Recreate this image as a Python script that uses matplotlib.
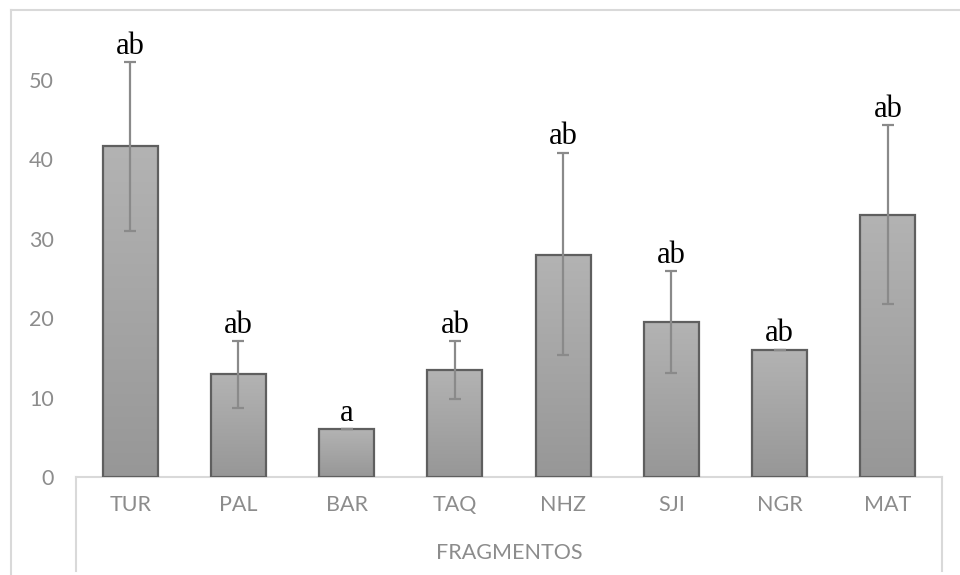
import matplotlib
matplotlib.use("Agg")
import matplotlib.pyplot as plt
import numpy as np
from matplotlib.lines import Line2D

# Data
fragments = ["TUR", "PAL", "BAR", "TAQ", "NHZ", "SJI", "NGR", "MAT"]
means = [41.6, 12.9, 6.0, 13.5, 27.9, 19.5, 16.0, 33.0]
err_low = [10.7, 4.2, 0.0, 3.7, 12.6, 6.4, 0.0, 11.2]
err_high = [10.6, 4.2, 0.0, 3.6, 12.9, 6.4, 0.0, 11.3]
letters = ["ab", "ab", "a", "ab", "ab", "ab", "ab", "ab"]
yticks = [0, 10, 20, 30, 40, 50]
xlabel = "FRAGMENTOS"

W, H = 960, 575
fig = plt.figure(figsize=(W / 100, H / 100), dpi=100)
ax = fig.add_axes([76 / W, (H - 477) / H, (942 - 76) / W, (477 - 16) / H])

x = np.arange(len(fragments))
bars = ax.bar(x, means, width=0.51, color="none", edgecolor="#5f5f5f",
              linewidth=1.6, zorder=3)

# vertical gradient fill clipped to each bar: lighter at the top
grad = np.linspace(0, 1, 256).reshape(-1, 1)
cmap = matplotlib.colors.LinearSegmentedColormap.from_list("g", ["#b3b3b3", "#979797"])
for b in bars:
    x0, y0 = b.get_x(), b.get_y()
    w, h = b.get_width(), b.get_height()
    im = ax.imshow(grad, cmap=cmap, aspect="auto", origin="upper",
                   extent=(x0, x0 + w, y0, y0 + h), zorder=2, interpolation="bicubic")
    im.set_clip_path(b)

ax.errorbar(x, means, yerr=[err_low, err_high], fmt="none", ecolor="#8a8a8a",
            elinewidth=1.6, capsize=4.5, capthick=1.6, zorder=4)

for xi, m, eh, lab in zip(x, means, err_high, letters):
    ax.annotate(lab, (xi, m + eh), xytext=(0, 6), textcoords="offset points",
                ha="center", va="baseline", fontsize=22,
                family="Liberation Serif", color="black", zorder=5)

ax.set_xlim(-0.5, len(fragments) - 0.5)
ax.set_ylim(0, 58)
ax.set_yticks(yticks)
ax.set_yticklabels([str(t) for t in yticks], family="Lato", fontsize=15.5, color="#8c8c8c")
ax.tick_params(axis="y", length=0, pad=16)
ax.set_xticks(x)
ax.set_xticklabels(fragments, family="Lato", fontsize=15.5, color="#8c8c8c")
ax.tick_params(axis="x", length=0, pad=13)

for s in ["left", "right", "top"]:
    ax.spines[s].set_visible(False)
ax.spines["bottom"].set_color("#d9d9d9")
ax.spines["bottom"].set_linewidth(1.5)

fig.text((76 + 942) / 2 / W, (H - 553) / H, xlabel, ha="center", va="center",
         family="Lato", fontsize=15.5, color="#8c8c8c")

# category box lines and outer chart border
lc = "#d9d9d9"
def pline(xs, ys):
    fig.add_artist(Line2D([v / W for v in xs], [(H - v) / H for v in ys],
                          color=lc, linewidth=1.5, transform=fig.transFigure))

pline([76, 76], [477, 571])
pline([942, 942], [477, 571])
pline([11, 11], [10, 575])
pline([11, 960], [10, 10])

fig.savefig("out.png", dpi=100)
